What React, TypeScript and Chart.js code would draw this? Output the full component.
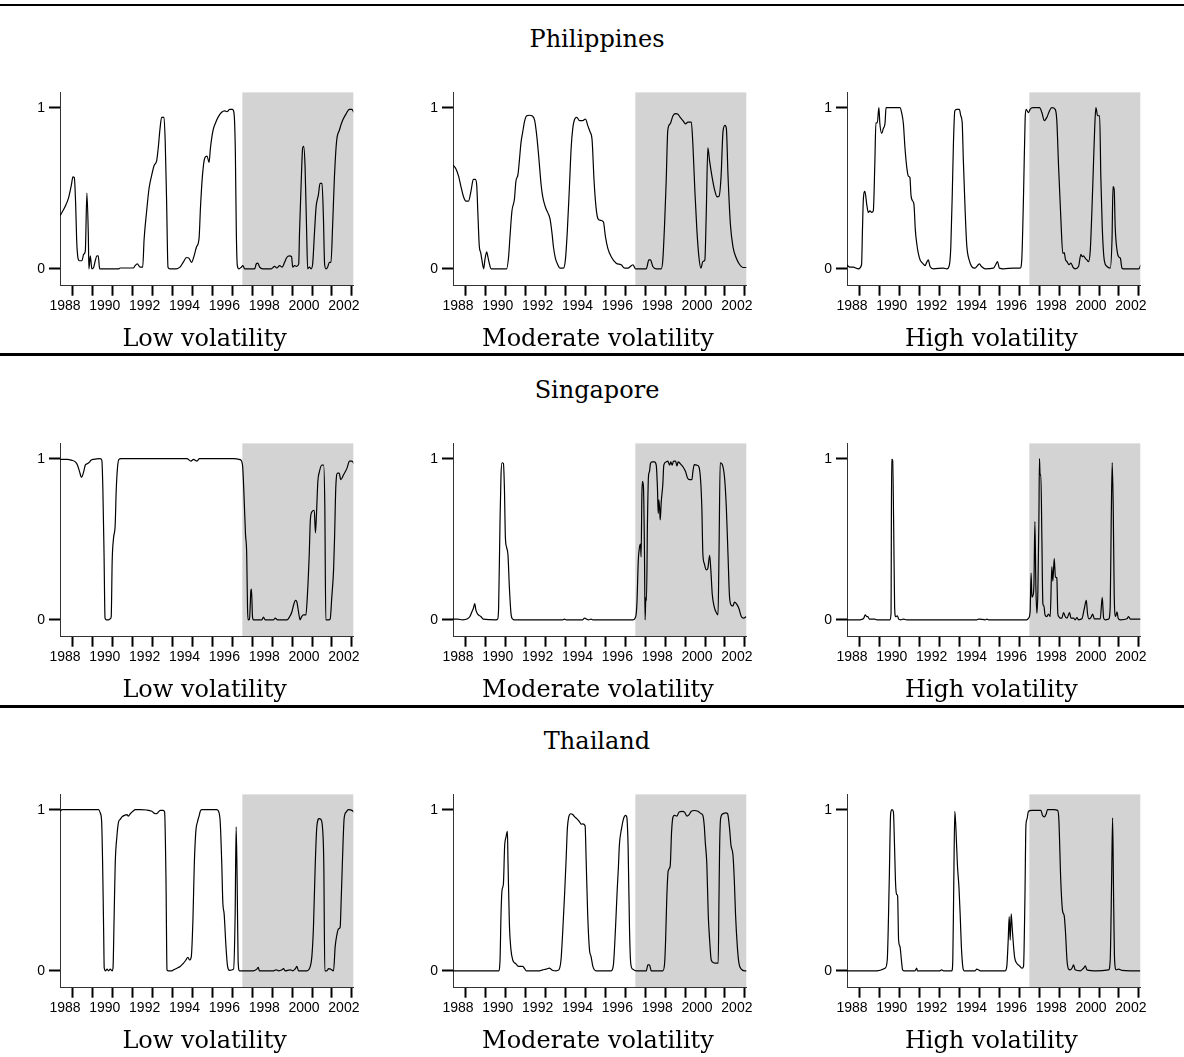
import React, { useEffect, useRef } from 'react';
import { Chart, registerables } from 'chart.js';

Chart.register(...registerables);

type Pt = [number, number];

const COUNTRIES = ['Philippines', 'Singapore', 'Thailand'];
const REGIMES = ['Low volatility', 'Moderate volatility', 'High volatility'];
const YEAR_TICKS = [1988, 1989, 1990, 1991, 1992, 1993, 1994, 1995, 1996, 1997, 1998, 1999, 2000, 2001, 2002];
const Y_TICKS = [0, 1];
const SHADE_START = 1996.5;
const X_MIN = 1987.35;
const X_MAX = 2002.07;
const Y_MIN = -0.105;
const Y_MAX = 1.095;

const PH_LOW: Pt[] = [[1987.36,0.33],[1987.62,0.39],[1987.78,0.44],[1987.92,0.52],[1988.0,0.57],[1988.07,0.565],[1988.13,0.42],[1988.2,0.14],[1988.32,0.05],[1988.45,0.05],[1988.54,0.09],[1988.62,0.11],[1988.7,0.47],[1988.77,0.22],[1988.8,0],[1988.87,0.08],[1988.95,0],[1989.04,0.01],[1989.12,0.05],[1989.2,0.08],[1989.27,0.08],[1989.34,0],[1990.28,0],[1990.37,0.005],[1991.03,0.005],[1991.12,0.02],[1991.23,0.03],[1991.37,0.01],[1991.5,0.01],[1991.57,0.18],[1991.7,0.36],[1991.82,0.5],[1991.95,0.58],[1992.07,0.64],[1992.2,0.67],[1992.28,0.75],[1992.37,0.87],[1992.45,0.94],[1992.57,0.94],[1992.63,0.79],[1992.7,0.42],[1992.77,0.01],[1992.87,0],[1993.2,0],[1993.37,0.01],[1993.53,0.04],[1993.7,0.07],[1993.83,0.065],[1993.95,0.04],[1994.08,0.08],[1994.2,0.135],[1994.33,0.19],[1994.4,0.38],[1994.5,0.58],[1994.62,0.69],[1994.73,0.7],[1994.83,0.66],[1994.9,0.75],[1995.03,0.86],[1995.17,0.91],[1995.28,0.94],[1995.45,0.97],[1995.62,0.98],[1995.73,0.975],[1995.87,0.99],[1996.0,0.99],[1996.08,0.97],[1996.15,0.73],[1996.2,0.22],[1996.25,0.02],[1996.33,0],[1996.45,0.01],[1996.53,0.02],[1996.62,0],[1997.12,0],[1997.2,0.03],[1997.28,0.035],[1997.37,0.01],[1997.53,0],[1997.95,0],[1998.12,0.015],[1998.23,0.005],[1998.37,0.02],[1998.5,0.01],[1998.62,0.04],[1998.73,0.07],[1998.87,0.08],[1998.97,0.075],[1999.03,0.01],[1999.12,0.02],[1999.23,0.015],[1999.33,0.03],[1999.37,0.22],[1999.45,0.52],[1999.53,0.75],[1999.58,0.76],[1999.65,0.63],[1999.73,0.22],[1999.78,0],[1999.87,0.01],[1999.95,0],[2000.03,0.03],[2000.12,0.22],[2000.2,0.38],[2000.32,0.46],[2000.4,0.53],[2000.5,0.53],[2000.57,0.32],[2000.63,0.03],[2000.7,0],[2000.78,0.01],[2000.87,0.04],[2000.95,0.04],[2001.03,0.26],[2001.12,0.56],[2001.23,0.79],[2001.37,0.86],[2001.53,0.92],[2001.7,0.96],[2001.87,0.99],[2002.0,0.99],[2002.1,0.97]];

const PH_MOD: Pt[] = [[1987.33,0.647],[1987.5,0.62],[1987.63,0.575],[1987.75,0.51],[1987.87,0.45],[1988.0,0.42],[1988.13,0.42],[1988.25,0.48],[1988.37,0.555],[1988.47,0.555],[1988.54,0.52],[1988.6,0.34],[1988.67,0.14],[1988.74,0.1],[1988.8,0.055],[1988.89,0],[1988.95,0.055],[1989.04,0.105],[1989.1,0.075],[1989.17,0.035],[1989.26,0],[1990.04,0],[1990.14,0.075],[1990.21,0.2],[1990.31,0.36],[1990.43,0.43],[1990.51,0.545],[1990.61,0.585],[1990.68,0.67],[1990.76,0.78],[1990.85,0.85],[1990.95,0.92],[1991.05,0.95],[1991.18,0.953],[1991.35,0.947],[1991.45,0.92],[1991.55,0.83],[1991.65,0.7],[1991.77,0.525],[1991.85,0.45],[1991.97,0.39],[1992.1,0.35],[1992.22,0.31],[1992.32,0.22],[1992.39,0.137],[1992.49,0.065],[1992.61,0.025],[1992.72,0.004],[1992.89,0.004],[1992.99,0.055],[1993.09,0.24],[1993.19,0.5],[1993.28,0.75],[1993.36,0.87],[1993.46,0.93],[1993.56,0.94],[1993.7,0.92],[1993.86,0.92],[1994.0,0.93],[1994.11,0.89],[1994.23,0.85],[1994.33,0.8],[1994.43,0.545],[1994.53,0.38],[1994.63,0.31],[1994.78,0.3],[1994.9,0.29],[1995.0,0.2],[1995.12,0.127],[1995.29,0.075],[1995.54,0.035],[1995.79,0.025],[1995.96,0.004],[1996.12,0.004],[1996.38,0.025],[1996.51,0],[1997.05,0],[1997.18,0.055],[1997.26,0.055],[1997.38,0.014],[1997.55,0],[1997.8,0],[1997.88,0.055],[1997.97,0.28],[1998.05,0.545],[1998.13,0.86],[1998.25,0.9],[1998.39,0.95],[1998.52,0.963],[1998.64,0.96],[1998.75,0.94],[1998.89,0.92],[1999.02,0.9],[1999.14,0.91],[1999.31,0.91],[1999.39,0.77],[1999.49,0.48],[1999.59,0.24],[1999.69,0.075],[1999.79,0.004],[1999.89,0.045],[1999.99,0.055],[2000.06,0.34],[2000.14,0.75],[2000.23,0.667],[2000.36,0.565],[2000.48,0.49],[2000.6,0.447],[2000.7,0.45],[2000.8,0.565],[2000.9,0.85],[2001.0,0.89],[2001.07,0.87],[2001.15,0.585],[2001.27,0.28],[2001.4,0.137],[2001.57,0.065],[2001.74,0.025],[2001.9,0.008],[2002.1,0.008]];

const PH_HIGH: Pt[] = [[1987.33,0.025],[1987.5,0.01],[1987.66,0.01],[1987.92,0],[1988.08,0.025],[1988.13,0.26],[1988.17,0.43],[1988.25,0.48],[1988.34,0.4],[1988.42,0.35],[1988.5,0.36],[1988.59,0.35],[1988.67,0.36],[1988.75,0.67],[1988.8,0.906],[1988.87,0.906],[1988.95,1.0],[1989.0,0.9],[1989.09,0.84],[1989.17,0.87],[1989.26,0.906],[1989.31,1.0],[1989.51,1.0],[1990.01,1.0],[1990.09,0.97],[1990.18,0.9],[1990.26,0.75],[1990.35,0.63],[1990.43,0.575],[1990.51,0.565],[1990.56,0.46],[1990.65,0.42],[1990.71,0.4],[1990.78,0.24],[1990.85,0.157],[1990.93,0.096],[1991.02,0.055],[1991.1,0.04],[1991.18,0.03],[1991.27,0.02],[1991.35,0.04],[1991.43,0.055],[1991.52,0.014],[1991.69,0],[1992.19,0.004],[1992.36,0],[1992.49,0.025],[1992.56,0.137],[1992.64,0.5],[1992.69,0.77],[1992.76,0.98],[1992.86,0.99],[1992.99,0.99],[1993.06,0.95],[1993.13,0.91],[1993.19,0.67],[1993.28,0.36],[1993.36,0.147],[1993.48,0.055],[1993.61,0.014],[1993.78,0.004],[1993.9,0.02],[1994.0,0.03],[1994.1,0.014],[1994.28,0],[1994.7,0.004],[1994.83,0.03],[1994.9,0.045],[1995.0,0.004],[1995.2,0],[1995.71,0.004],[1996.04,0.004],[1996.12,0.055],[1996.21,0.46],[1996.29,0.93],[1996.34,0.99],[1996.46,0.97],[1996.54,0.99],[1996.68,1.0],[1997.01,1.0],[1997.13,0.97],[1997.25,0.92],[1997.38,0.94],[1997.51,0.98],[1997.63,1.0],[1997.8,0.99],[1997.88,0.92],[1997.97,0.63],[1998.08,0.32],[1998.18,0.096],[1998.25,0.1],[1998.32,0.055],[1998.39,0.045],[1998.49,0.025],[1998.59,0.035],[1998.69,0.01],[1998.8,0],[1998.97,0.014],[1999.09,0.09],[1999.16,0.075],[1999.22,0.08],[1999.31,0.065],[1999.39,0.055],[1999.47,0.045],[1999.56,0.116],[1999.68,0.5],[1999.78,0.87],[1999.84,1.0],[1999.93,0.95],[2000.03,0.95],[2000.09,0.565],[2000.16,0.26],[2000.26,0.055],[2000.4,0.014],[2000.56,0.004],[2000.65,0.18],[2000.7,0.51],[2000.76,0.49],[2000.81,0.26],[2000.9,0.116],[2000.98,0.075],[2001.07,0.065],[2001.15,0.004],[2001.23,0],[2001.99,0],[2002.1,0.025]];

const SG_LOW: Pt[] = [[1987.36,0.996],[1987.7,0.996],[1987.95,0.99],[1988.12,0.98],[1988.23,0.96],[1988.33,0.92],[1988.43,0.885],[1988.54,0.92],[1988.62,0.96],[1988.74,0.97],[1988.84,0.98],[1988.9,0.99],[1989.04,0.996],[1989.37,1.0],[1989.45,0.99],[1989.5,0.82],[1989.56,0.41],[1989.61,0.01],[1989.67,0],[1989.79,0],[1989.87,0.006],[1989.92,0.02],[1989.97,0.37],[1990.04,0.51],[1990.12,0.59],[1990.17,0.8],[1990.24,0.95],[1990.31,0.996],[1990.41,1.0],[1993.72,1.0],[1993.92,0.985],[1994.05,0.996],[1994.22,0.985],[1994.35,1.0],[1996.06,1.0],[1996.39,0.994],[1996.51,0.96],[1996.59,0.755],[1996.66,0.53],[1996.72,0.41],[1996.76,0.08],[1996.79,0],[1996.86,0.004],[1996.93,0.18],[1996.96,0.19],[1997.01,0.02],[1997.06,0],[1997.48,0],[1997.56,0.016],[1997.65,0],[1998.07,0],[1998.15,0.01],[1998.27,0],[1998.74,0],[1998.88,0.02],[1998.99,0.05],[1999.07,0.09],[1999.17,0.12],[1999.24,0.11],[1999.32,0.05],[1999.4,0],[1999.48,0.02],[1999.57,0.03],[1999.69,0.03],[1999.77,0.16],[1999.86,0.41],[1999.91,0.61],[1999.99,0.67],[2000.11,0.68],[2000.17,0.54],[2000.22,0.65],[2000.29,0.857],[2000.37,0.92],[2000.49,0.96],[2000.58,0.96],[2000.64,0.71],[2000.69,0],[2000.83,0],[2000.91,0.004],[2000.99,0.14],[2001.08,0.31],[2001.13,0.51],[2001.19,0.816],[2001.28,0.91],[2001.36,0.91],[2001.44,0.87],[2001.58,0.9],[2001.75,0.94],[2001.88,0.985],[2002.0,0.985],[2002.1,0.97]];

const SG_MOD: Pt[] = [[1987.33,0.004],[1987.58,0.004],[1987.83,0],[1988.08,0.006],[1988.2,0.02],[1988.3,0.05],[1988.37,0.07],[1988.44,0.1],[1988.5,0.06],[1988.59,0.035],[1988.75,0.02],[1988.87,0.004],[1989.51,0],[1989.59,0.004],[1989.64,0.08],[1989.71,0.61],[1989.76,0.9],[1989.81,0.975],[1989.88,0.97],[1989.93,0.82],[1989.98,0.51],[1990.04,0.45],[1990.11,0.4],[1990.18,0.2],[1990.26,0.04],[1990.35,0.004],[1990.43,0],[1992.86,0],[1992.94,0.004],[1993.03,0],[1993.86,0],[1993.95,0.01],[1994.03,0.006],[1994.15,0],[1994.28,0.004],[1994.37,0],[1996.38,0],[1996.52,0.02],[1996.58,0.1],[1996.65,0.37],[1996.71,0.45],[1996.76,0.47],[1996.79,0.39],[1996.83,0.78],[1996.86,0.86],[1996.91,0.82],[1996.96,0.41],[1996.99,0],[1997.03,0.14],[1997.06,0.12],[1997.11,0.61],[1997.16,0.89],[1997.21,0.92],[1997.26,0.97],[1997.35,0.98],[1997.46,0.98],[1997.55,0.96],[1997.61,0.82],[1997.65,0.66],[1997.68,0.745],[1997.72,0.69],[1997.75,0.62],[1997.8,0.73],[1997.88,0.84],[1997.93,0.96],[1998.05,0.98],[1998.13,0.985],[1998.22,0.96],[1998.28,0.98],[1998.35,0.96],[1998.42,0.985],[1998.52,0.985],[1998.59,0.955],[1998.65,0.98],[1998.75,0.97],[1998.89,0.95],[1999.02,0.92],[1999.12,0.88],[1999.22,0.87],[1999.34,0.87],[1999.39,0.92],[1999.46,0.963],[1999.59,0.96],[1999.69,0.95],[1999.78,0.86],[1999.84,0.69],[1999.89,0.41],[1999.96,0.35],[2000.06,0.31],[2000.14,0.32],[2000.23,0.4],[2000.29,0.31],[2000.36,0.16],[2000.46,0.08],[2000.56,0.045],[2000.65,0.03],[2000.7,0.41],[2000.76,0.975],[2000.86,0.965],[2000.98,0.88],[2001.07,0.69],[2001.15,0.41],[2001.23,0.14],[2001.32,0.09],[2001.4,0.086],[2001.48,0.11],[2001.57,0.1],[2001.7,0.07],[2001.82,0.02],[2001.94,0.01],[2002.07,0.02]];

const SG_HIGH: Pt[] = [[1987.33,0],[1988.0,0],[1988.17,0.006],[1988.27,0.03],[1988.34,0.02],[1988.4,0.02],[1988.47,0.004],[1988.75,0.004],[1988.84,0],[1989.51,0],[1989.56,0.04],[1989.59,0.996],[1989.64,0.99],[1989.69,0.61],[1989.74,0.08],[1989.79,0.02],[1989.88,0.025],[1989.94,0.004],[1990.04,0],[1990.18,0.004],[1990.35,0],[1993.86,0],[1993.95,0.004],[1994.28,0],[1994.37,0.004],[1994.45,0],[1996.38,0],[1996.46,0.01],[1996.54,0.05],[1996.59,0.29],[1996.63,0.14],[1996.68,0.15],[1996.73,0.21],[1996.78,0.61],[1996.83,0.2],[1996.88,0.04],[1996.93,0.18],[1996.98,0.61],[1997.01,1.0],[1997.04,0.9],[1997.08,0.9],[1997.13,0.51],[1997.18,0.1],[1997.23,0.086],[1997.29,0.03],[1997.38,0.02],[1997.46,0.035],[1997.55,0.02],[1997.63,0.33],[1997.68,0.24],[1997.75,0.38],[1997.81,0.265],[1997.88,0.26],[1997.93,0.04],[1997.98,0.02],[1998.05,0.01],[1998.13,0.01],[1998.22,0.045],[1998.3,0.02],[1998.39,0.01],[1998.52,0.045],[1998.59,0.01],[1998.72,0.01],[1998.8,0],[1998.89,0.014],[1998.97,0],[1999.14,0.006],[1999.26,0.07],[1999.36,0.12],[1999.42,0.04],[1999.49,0.006],[1999.59,0.014],[1999.68,0.035],[1999.76,0.006],[1999.89,0.006],[2000.06,0.006],[2000.16,0.14],[2000.23,0.01],[2000.31,0],[2000.48,0.004],[2000.56,0.08],[2000.61,0.61],[2000.66,0.976],[2000.71,0.71],[2000.76,0.16],[2000.83,0.02],[2000.9,0.05],[2000.96,0.01],[2001.07,0],[2001.4,0.006],[2001.48,0.02],[2001.57,0.004],[2002.1,0.004]];

const TH_LOW: Pt[] = [[1987.36,0.99],[1987.45,1.0],[1989.29,1.0],[1989.37,0.98],[1989.44,0.925],[1989.49,0.66],[1989.54,0.25],[1989.57,0.016],[1989.64,0],[1989.71,0.01],[1989.79,0],[1989.87,0.01],[1989.96,0],[1990.01,0.016],[1990.06,0.29],[1990.12,0.66],[1990.21,0.84],[1990.29,0.925],[1990.37,0.94],[1990.46,0.955],[1990.58,0.965],[1990.71,0.97],[1990.78,0.96],[1990.88,0.975],[1991.01,0.99],[1991.13,1.0],[1991.38,1.0],[1991.71,0.998],[1991.96,0.99],[1992.13,0.975],[1992.25,0.98],[1992.38,0.996],[1992.52,0.996],[1992.6,0.986],[1992.67,0.56],[1992.72,0.006],[1992.77,0],[1992.97,0],[1993.05,0.006],[1993.22,0.016],[1993.38,0.027],[1993.55,0.047],[1993.67,0.067],[1993.77,0.084],[1993.85,0.067],[1993.94,0.088],[1994.02,0.31],[1994.09,0.66],[1994.17,0.87],[1994.25,0.925],[1994.34,0.965],[1994.39,0.99],[1994.47,1.0],[1995.22,1.0],[1995.32,0.986],[1995.39,0.925],[1995.47,0.66],[1995.52,0.43],[1995.59,0.35],[1995.68,0.15],[1995.76,0.027],[1995.86,0.002],[1996.06,0.01],[1996.14,0.35],[1996.19,0.894],[1996.24,0.56],[1996.29,0.057],[1996.36,0],[1997.06,0],[1997.23,0.01],[1997.3,0.022],[1997.36,0],[1998.07,0],[1998.2,0.006],[1998.32,0],[1998.49,0.006],[1998.57,0.014],[1998.65,0],[1998.9,0.006],[1999.04,0],[1999.17,0.014],[1999.24,0.027],[1999.32,0],[1999.74,0],[1999.91,0.027],[1999.99,0.088],[2000.07,0.27],[2000.16,0.66],[2000.24,0.894],[2000.36,0.945],[2000.44,0.94],[2000.53,0.88],[2000.59,0.66],[2000.64,0],[2000.74,0],[2000.83,0.014],[2000.94,0.01],[2001.08,0],[2001.16,0.15],[2001.24,0.22],[2001.33,0.26],[2001.41,0.27],[2001.46,0.43],[2001.53,0.7],[2001.61,0.945],[2001.71,0.985],[2001.83,1.0],[2002.0,0.996],[2002.1,0.985]];

const TH_MOD: Pt[] = [[1987.33,0],[1989.64,0],[1989.71,0.067],[1989.76,0.35],[1989.81,0.5],[1989.88,0.54],[1989.94,0.77],[1990.01,0.83],[1990.08,0.865],[1990.11,0.68],[1990.18,0.29],[1990.26,0.13],[1990.35,0.067],[1990.43,0.05],[1990.51,0.043],[1990.6,0.03],[1990.71,0.027],[1990.85,0.027],[1990.93,0.016],[1991.02,0],[1991.69,0],[1991.85,0.006],[1992.02,0.01],[1992.19,0.016],[1992.27,0.01],[1992.36,0.002],[1992.52,0],[1992.66,0.006],[1992.77,0.067],[1992.86,0.25],[1992.96,0.5],[1993.03,0.7],[1993.09,0.884],[1993.16,0.955],[1993.26,0.975],[1993.36,0.97],[1993.46,0.955],[1993.56,0.945],[1993.7,0.925],[1993.78,0.91],[1993.86,0.912],[1993.98,0.9],[1994.03,0.7],[1994.11,0.35],[1994.2,0.13],[1994.28,0.088],[1994.37,0.027],[1994.53,0],[1995.29,0],[1995.4,0.037],[1995.5,0.25],[1995.59,0.5],[1995.65,0.64],[1995.7,0.78],[1995.81,0.884],[1995.91,0.945],[1996.01,0.965],[1996.07,0.955],[1996.14,0.76],[1996.21,0.25],[1996.27,0.047],[1996.37,0.01],[1996.54,0],[1997.05,0],[1997.13,0.037],[1997.21,0.037],[1997.3,0],[1997.88,0],[1997.97,0.047],[1998.02,0.19],[1998.08,0.455],[1998.15,0.62],[1998.25,0.65],[1998.32,0.863],[1998.39,0.955],[1998.47,0.965],[1998.59,0.96],[1998.69,0.985],[1998.85,0.99],[1998.97,0.985],[1999.09,0.96],[1999.19,0.968],[1999.31,0.99],[1999.47,0.995],[1999.64,0.99],[1999.81,0.975],[1999.89,0.965],[1999.96,0.9],[2000.01,0.8],[2000.09,0.66],[2000.16,0.35],[2000.23,0.19],[2000.31,0.067],[2000.43,0.05],[2000.56,0.047],[2000.66,0.047],[2000.7,0.455],[2000.73,0.76],[2000.78,0.945],[2000.9,0.975],[2001.03,0.98],[2001.13,0.975],[2001.23,0.884],[2001.3,0.78],[2001.4,0.72],[2001.47,0.557],[2001.53,0.35],[2001.62,0.15],[2001.7,0.047],[2001.82,0.01],[2001.99,0],[2002.1,0]];

const TH_HIGH: Pt[] = [[1987.33,0],[1988.84,0],[1989.26,0.016],[1989.37,0.067],[1989.47,0.557],[1989.54,0.975],[1989.61,1.0],[1989.68,0.986],[1989.73,0.8],[1989.79,0.537],[1989.84,0.475],[1989.89,0.465],[1989.94,0.19],[1990.01,0.15],[1990.08,0.067],[1990.14,0.006],[1990.21,0],[1990.76,0],[1990.85,0.016],[1990.88,0],[1992.02,0],[1992.1,0.006],[1992.19,0],[1992.61,0],[1992.66,0.067],[1992.71,0.557],[1992.76,0.99],[1992.81,0.9],[1992.89,0.66],[1992.97,0.516],[1993.03,0.35],[1993.09,0.15],[1993.16,0.027],[1993.23,0],[1993.78,0],[1993.86,0.01],[1993.95,0.006],[1994.03,0],[1995.29,0],[1995.37,0.027],[1995.44,0.19],[1995.49,0.337],[1995.54,0.19],[1995.59,0.353],[1995.64,0.27],[1995.71,0.15],[1995.77,0.078],[1995.87,0.047],[1996.01,0.03],[1996.14,0.016],[1996.21,0.027],[1996.28,0.455],[1996.33,0.9],[1996.38,0.94],[1996.46,0.99],[1996.63,0.996],[1996.88,0.996],[1997.08,0.996],[1997.16,0.965],[1997.26,0.955],[1997.35,0.975],[1997.41,1.0],[1997.72,1.0],[1997.92,0.996],[1997.98,0.945],[1998.08,0.557],[1998.17,0.37],[1998.25,0.343],[1998.32,0.23],[1998.39,0.067],[1998.47,0.01],[1998.55,0.006],[1998.64,0.016],[1998.72,0.037],[1998.8,0.006],[1999.06,0],[1999.22,0.016],[1999.31,0.03],[1999.39,0.006],[1999.89,0],[2000.48,0.006],[2000.56,0.067],[2000.63,0.557],[2000.68,0.95],[2000.73,0.455],[2000.78,0.067],[2000.86,0.006],[2000.98,0.01],[2001.15,0.002],[2001.57,0],[2002.07,0]];

const SERIES: Pt[][][] = [
  [PH_LOW, PH_MOD, PH_HIGH],
  [SG_LOW, SG_MOD, SG_HIGH],
  [TH_LOW, TH_MOD, TH_HIGH],
];

// layout
const CW = 360;
const CH = 250;
const AXIS_W = 50;
const XAXIS_H = 40;
const PAD_TOP = 10;
const PLOT_W = 293.3;
const PLOT_H = 195.7;
const COL_AXIS_X = [60, 453.3, 846.7];
const ROW_TOP = [90, 441, 792];
const TITLE_FONT = "'DejaVu Serif', serif";
const TICK_FONT = "'Liberation Sans', Arial, sans-serif";

const shadePlugin = {
  id: 'shadeRegion',
  beforeDraw(chart: any) {
    const { ctx, chartArea, scales } = chart;
    const x0 = scales.x.getPixelForValue(SHADE_START);
    ctx.save();
    ctx.fillStyle = '#d3d3d3';
    ctx.fillRect(x0, chartArea.top, chartArea.right - x0, chartArea.bottom - chartArea.top);
    ctx.restore();
  },
};

function Panel({ series, left, top }: { series: Pt[]; left: number; top: number }) {
  const ref = useRef<HTMLCanvasElement>(null);
  useEffect(() => {
    const canvas = ref.current;
    if (!canvas) return;
    const chart = new Chart(canvas, {
      type: 'line',
      data: {
        datasets: [
          {
            data: series.map(([x, y]) => ({ x, y })),
            borderColor: '#000',
            borderWidth: 1.2,
            pointRadius: 0,
            fill: false,
            cubicInterpolationMode: 'monotone',
          } as any,
        ],
      },
      options: {
        animation: false,
        responsive: false,
        events: [],
        layout: {
          padding: {
            top: PAD_TOP,
            left: 0,
            right: CW - AXIS_W - PLOT_W,
            bottom: CH - PAD_TOP - PLOT_H - XAXIS_H,
          },
        },
        plugins: { legend: { display: false }, tooltip: { enabled: false }, title: { display: false } },
        scales: {
          x: {
            type: 'linear',
            min: X_MIN,
            max: X_MAX,
            afterBuildTicks: (axis: any) => {
              axis.ticks = YEAR_TICKS.map((v) => ({ value: v }));
            },
            afterFit: (s: any) => {
              s.height = XAXIS_H;
            },
            grid: { drawOnChartArea: false, drawTicks: true, tickLength: 10, tickWidth: 2, tickColor: '#000' },
            border: { display: true, color: '#333', width: 1 },
            ticks: {
              autoSkip: false,
              maxRotation: 0,
              minRotation: 0,
              padding: 2,
              labelOffset: -8,
              color: '#000',
              font: { family: TICK_FONT, size: 14 },
              callback: (v: any) => (Number(v) % 2 === 0 ? String(v) : ''),
            },
          },
          y: {
            type: 'linear',
            min: Y_MIN,
            max: Y_MAX,
            afterBuildTicks: (axis: any) => {
              axis.ticks = Y_TICKS.map((v) => ({ value: v }));
            },
            afterFit: (s: any) => {
              s.width = AXIS_W;
            },
            grid: { drawOnChartArea: false, drawTicks: true, tickLength: 11, tickWidth: 2, tickColor: '#000' },
            border: { display: true, color: '#333', width: 1 },
            ticks: {
              padding: 4,
              color: '#000',
              font: { family: TICK_FONT, size: 14 },
              callback: (v: any) => String(v),
            },
          },
        },
      } as any,
      plugins: [shadePlugin],
    });
    return () => chart.destroy();
  }, [series]);
  return (
    <div style={{ position: 'absolute', left, top, width: CW, height: CH }}>
      <canvas ref={ref} width={CW} height={CH} style={{ display: 'block', width: CW, height: CH }} />
    </div>
  );
}

const RULES = [3.5, 353, 705];

export default function App() {
  return (
    <div
      style={{
        position: 'absolute',
        left: 0,
        top: 0,
        width: 1184,
        height: 1057,
        overflow: 'hidden',
        background: '#fff',
        fontFamily: TITLE_FONT,
        color: '#000',
      }}
    >
      {RULES.map((t, i) => (
        <div key={'r' + i} style={{ position: 'absolute', left: 0, top: t, width: 1184, height: 2.5, background: '#000' }} />
      ))}
      {COUNTRIES.map((c, r) => (
        <div
          key={'t' + r}
          style={{
            position: 'absolute',
            left: 297,
            width: 600,
            top: 27 + 351 * r,
            fontSize: 24,
            lineHeight: '24px',
            textAlign: 'center',
            whiteSpace: 'nowrap',
          }}
        >
          {c}
        </div>
      ))}
      {SERIES.map((row, r) =>
        row.map((s, c) => (
          <Panel
            key={r + '-' + c}
            series={s}
            left={Math.round(COL_AXIS_X[c] - AXIS_W)}
            top={ROW_TOP[r] - PAD_TOP}
          />
        ))
      )}
      {COUNTRIES.map((_, r) =>
        REGIMES.map((lab, c) => (
          <div
            key={'s' + r + c}
            style={{
              position: 'absolute',
              left: COL_AXIS_X[c] + PLOT_W / 2 - 152,
              width: 300,
              top: 326 + 351 * r,
              fontSize: 24,
              lineHeight: '24px',
              textAlign: 'center',
              whiteSpace: 'nowrap',
            }}
          >
            {lab}
          </div>
        ))
      )}
    </div>
  );
}
